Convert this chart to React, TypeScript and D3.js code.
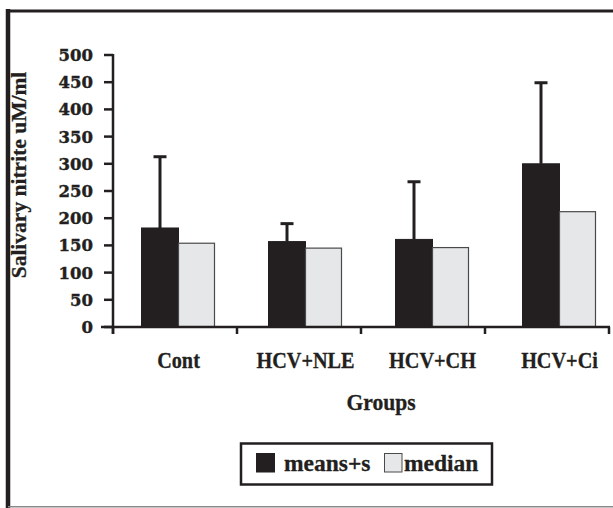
import React from "react";
import * as d3 from "d3";

const categories = ["Cont", "HCV+NLE", "HCV+CH", "HCV+Ci"];
const means = [182, 157, 161, 300];
const sds = [131, 33, 106, 149];
const medians = [154, 145, 146, 212];
const yTicks = [0, 50, 100, 150, 200, 250, 300, 350, 400, 450, 500];
const seriesNames = ["means+s", "median"];

const W = 613;
const H = 508;
const INK = "#231f20";
const GRAY = "#e6e7e8";
const SERIF = "'Liberation Serif', 'Times New Roman', serif";
const DIGITS = "'DejaVu Serif', serif";

export default function App() {
  const y = d3.scaleLinear().domain([0, 500]).range([327, 55]);
  const x = d3.scaleBand<string>().domain(categories).range([115, 623]);
  const tickScale = d3.scaleLinear().domain([0, categories.length]).range([113, 609]);
  const barW = 37;
  const y0 = y(0);

  return (
    <svg
      width={W}
      height={H}
      style={{ position: "absolute", left: 0, top: 0, background: "#fff" }}
    >
      {/* frame */}
      <line x1={8} y1={9} x2={8} y2={508} stroke={INK} strokeWidth={4.5} />
      <line x1={6} y1={11} x2={W} y2={11} stroke={INK} strokeWidth={3} />
      <line x1={8} y1={506.8} x2={W} y2={506.8} stroke="#8a8a8a" strokeWidth={1.5} />

      {/* bars */}
      {categories.map((c, i) => {
        const cx = (x(c) as number) + x.bandwidth() / 2;
        const top = y(means[i]);
        const errTop = y(means[i] + sds[i]);
        const bx = cx - barW;
        return (
          <g key={c}>
            <line x1={bx + barW / 2} x2={bx + barW / 2} y1={top} y2={errTop} stroke={INK} strokeWidth={3} />
            <line x1={bx + barW / 2 - 6.5} x2={bx + barW / 2 + 6.5} y1={errTop} y2={errTop} stroke={INK} strokeWidth={3} />
            <rect x={bx} y={top} width={barW} height={y0 - top} fill={INK} stroke={INK} strokeWidth={1} />
            <rect
              x={cx}
              y={y(medians[i])}
              width={barW - 1}
              height={y0 - y(medians[i])}
              fill={GRAY}
              stroke="#4a4a4a"
              strokeWidth={1.2}
            />
          </g>
        );
      })}

      {/* y axis */}
      <line x1={113} x2={113} y1={y(500) - 1} y2={334} stroke={INK} strokeWidth={2.5} />
      {yTicks.map((t) => (
        <g key={t}>
          <line x1={104} x2={113} y1={y(t)} y2={y(t)} stroke={INK} strokeWidth={2.5} />
          <text
            x={93}
            y={y(t)}
            dy="0.36em"
            textAnchor="end"
            fontFamily={DIGITS}
            fontWeight="bold"
            fontSize={16.5}
            fill={INK}
            stroke={INK}
            strokeWidth={0.4}
          >
            {t}
          </text>
        </g>
      ))}

      {/* x axis */}
      <line x1={101} x2={tickScale(categories.length) + 1} y1={y0} y2={y0} stroke={INK} strokeWidth={2.5} />
      {d3.range(categories.length + 1).map((k) => (
        <line key={k} x1={tickScale(k)} x2={tickScale(k)} y1={y0} y2={y0 + 7} stroke={INK} strokeWidth={2.5} />
      ))}
      {categories.map((c) => (
        <text
          key={c}
          transform={`translate(${(x(c) as number) + x.bandwidth() / 2},368) scale(0.9,1)`}
          textAnchor="middle"
          fontFamily={SERIF}
          fontWeight="bold"
          fontSize={22.5}
          fill={INK}
          stroke={INK}
          strokeWidth={0.3}
        >
          {c}
        </text>
      ))}

      {/* axis titles */}
      <text
        transform="translate(381,410) scale(0.92,1)"
        textAnchor="middle"
        fontFamily={SERIF}
        fontWeight="bold"
        fontSize={23.5}
        fill={INK}
        stroke={INK}
        strokeWidth={0.3}
      >
        Groups
      </text>
      <text
        transform="translate(26,175) rotate(-90)"
        textAnchor="middle"
        fontFamily={SERIF}
        fontWeight="bold"
        fontSize={21.5}
        fill={INK}
        stroke={INK}
        strokeWidth={0.3}
      >
        Salivary nitrite uM/ml
      </text>

      {/* legend */}
      <rect x={241} y={443.5} width={251} height={41} fill="#fff" stroke={INK} strokeWidth={2.5} />
      <rect x={256} y={453} width={19} height={19.5} fill={INK} />
      <text x={284} y={471} fontFamily={SERIF} fontWeight="bold" fontSize={23.5} fill={INK} stroke={INK} strokeWidth={0.3}>
        {seriesNames[0]}
      </text>
      <rect x={384.5} y={453.5} width={17.5} height={18.5} fill={GRAY} stroke="#4a4a4a" strokeWidth={1} />
      <text x={404} y={471} fontFamily={SERIF} fontWeight="bold" fontSize={23.5} fill={INK} stroke={INK} strokeWidth={0.3}>
        {seriesNames[1]}
      </text>
    </svg>
  );
}
